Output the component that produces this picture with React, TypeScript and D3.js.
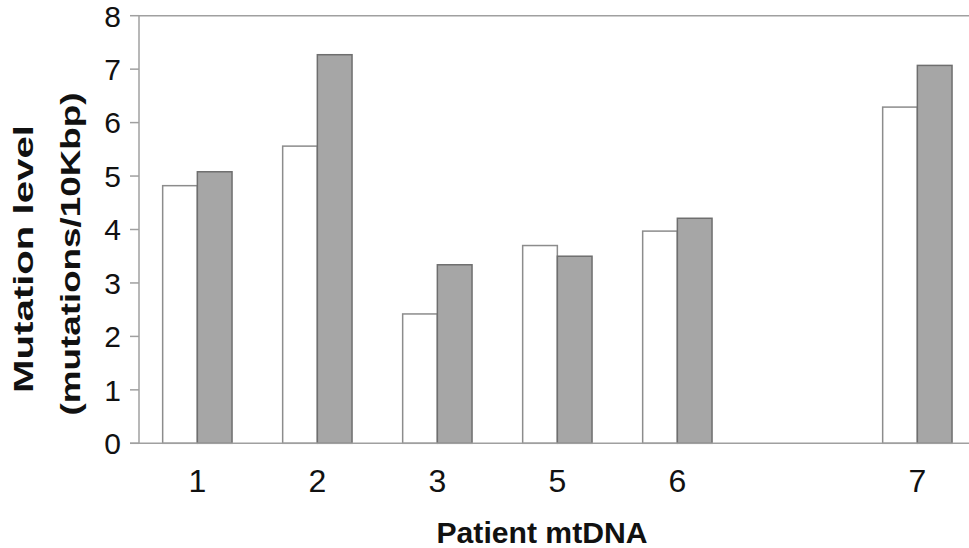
import React from "react";
import * as d3 from "d3";

// patients on the x axis ("" is the empty slot between 6 and 7)
const categories = ["1", "2", "3", "5", "6", "", "7"];
const whiteValues = [4.82, 5.56, 2.42, 3.7, 3.97, null, 6.29];
const grayValues = [5.08, 7.27, 3.34, 3.5, 4.21, null, 7.07];
const yTicks = [0, 1, 2, 3, 4, 5, 6, 7, 8];
const series = ["white", "gray"];

const W = 969;
const H = 548;

const App = () => {
  const x0 = d3
    .scaleBand()
    .domain(categories.map((c, i) => String(i)))
    .range([137.35, 977.35])
    .padding(0);

  const x1 = d3
    .scaleBand()
    .domain(series)
    .range([0, x0.bandwidth()])
    .paddingInner(0)
    .paddingOuter(0.73);

  const y = d3.scaleLinear().domain([0, 8]).range([443.3, 15.7]);

  const axisColor = "#a0a0a0";
  const font = "Liberation Sans, Arial, sans-serif";
  const axisX = 139;

  return (
    <svg
      width={W}
      height={H}
      style={{ position: "absolute", left: 0, top: 0, background: "#fff" }}
    >
      {/* top frame line */}
      <line x1={axisX} x2={W} y1={y(8)} y2={y(8)} stroke={axisColor} strokeWidth={1.5} />

      {/* bars */}
      {categories.map((c, i) => {
        const bx = x0(String(i));
        const w = whiteValues[i];
        const g = grayValues[i];
        return (
          <g key={i}>
            {w != null && (
              <rect
                x={bx + x1("white")}
                y={y(w)}
                width={x1.bandwidth()}
                height={y(0) - y(w)}
                fill="#ffffff"
                stroke="#8c8c8c"
                strokeWidth={1.5}
              />
            )}
            {g != null && (
              <rect
                x={bx + x1("gray")}
                y={y(g)}
                width={x1.bandwidth()}
                height={y(0) - y(g)}
                fill="#a6a6a6"
                stroke="#6e6e6e"
                strokeWidth={1.5}
              />
            )}
          </g>
        );
      })}

      {/* y axis */}
      <line x1={axisX} x2={axisX} y1={y(8)} y2={y(0)} stroke={axisColor} strokeWidth={1.5} />
      {yTicks.map(t => (
        <g key={t}>
          <line x1={130} x2={axisX} y1={y(t)} y2={y(t)} stroke={axisColor} strokeWidth={1.5} />
          <text
            x={121}
            y={y(t)}
            dy="0.36em"
            textAnchor="end"
            fontFamily={font}
            fontSize={30}
            fill="#111"
          >
            {t}
          </text>
        </g>
      ))}

      {/* x axis */}
      <line x1={130} x2={W} y1={y(0)} y2={y(0)} stroke={axisColor} strokeWidth={1.5} />
      {categories.map((c, i) => (
        <text
          key={i}
          x={x0(String(i)) + x0.bandwidth() / 2}
          y={491.7}
          textAnchor="middle"
          fontFamily={font}
          fontSize={32}
          fill="#111"
        >
          {c}
        </text>
      ))}

      {/* axis titles */}
      <text
        x={542}
        y={543.3}
        textAnchor="middle"
        fontFamily={font}
        fontSize={30}
        fontWeight="bold"
        textLength={211}
        lengthAdjust="spacingAndGlyphs"
        fill="#111"
      >
        Patient mtDNA
      </text>
      <text
        transform="translate(33,259) rotate(-90)"
        textAnchor="middle"
        fontFamily={font}
        fontSize={27}
        fontWeight="bold"
        textLength={268}
        lengthAdjust="spacingAndGlyphs"
        fill="#111"
      >
        Mutation level
      </text>
      <text
        transform="translate(80,254) rotate(-90)"
        textAnchor="middle"
        fontFamily={font}
        fontSize={27}
        fontWeight="bold"
        textLength={323}
        lengthAdjust="spacingAndGlyphs"
        fill="#111"
      >
        (mutations/10Kbp)
      </text>
    </svg>
  );
};

export default App;
